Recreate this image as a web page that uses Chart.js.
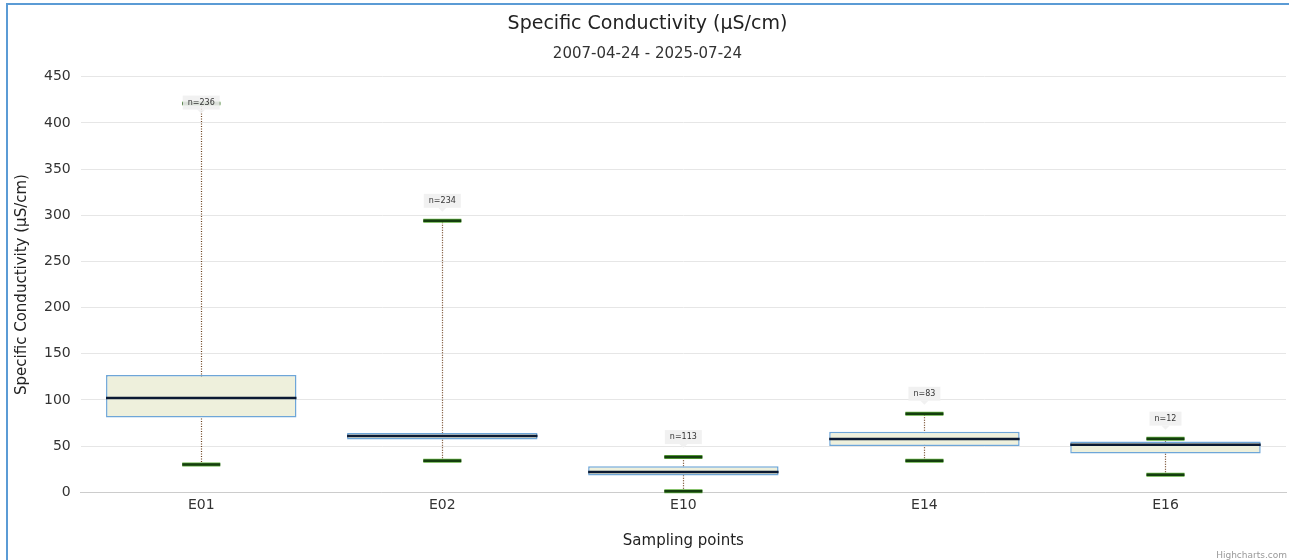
<!DOCTYPE html>
<html lang="en">

<head>
    <meta charset="UTF-8">
    <title>Specific Conductivity</title>
    <script src="https://cdn.jsdelivr.net/npm/chart.js"></script>
    <style>
        body { margin: 0; background: #fff; }
        .frame {
            position: absolute; left: 6px; top: 3px;
            width: 1283px; height: 557px;
            border-top: 2px solid #5b9bd5; border-left: 2px solid #5b9bd5;
        }
        .frame canvas { position: absolute; left: 0; top: 0; }
    </style>
</head>

<body>
    <div class="frame">
        <canvas id="myChart" width="1283" height="557"></canvas>
    </div>

    <script>
        // sampling points and box plot values (uS/cm)
        const puntos = ['E01', 'E02', 'E10', 'E14', 'E16']
        const minimo = [30, 34, 1, 34, 19]
        const q1 = [81, 57, 18, 50, 42]
        const mediana = [102, 61, 22, 57.5, 51.5]
        const q3 = [127, 64, 28, 65.5, 55]
        const maximo = [421, 294, 38, 85, 58]
        const cuentas = [236, 234, 113, 83, 12]

        const boxFont = 'DejaVu Sans'

        const cajas = {
            id: 'cajas',
            beforeDatasetsDraw(chart) {
                const ctx = chart.ctx, x = chart.scales.x, y = chart.scales.y
                ctx.save()
                ctx.strokeStyle = '#6b3f1c'
                ctx.lineWidth = 1.2
                ctx.setLineDash([1, 1.5])
                puntos.forEach((p, i) => {
                    const px = Math.round(x.getPixelForValue(i)) + 0.5
                    ctx.beginPath()
                    ctx.moveTo(px, y.getPixelForValue(minimo[i]))
                    ctx.lineTo(px, y.getPixelForValue(maximo[i]))
                    ctx.stroke()
                })
                ctx.restore()
            },
            afterDatasetsDraw(chart) {
                const ctx = chart.ctx, x = chart.scales.x, y = chart.scales.y
                const meta = chart.getDatasetMeta(0)
                ctx.save()
                puntos.forEach((p, i) => {
                    const px = x.getPixelForValue(i)
                    const w = meta.data[i].width
                    // median
                    ctx.strokeStyle = '#0b1a33'
                    ctx.lineWidth = 2.5
                    const ym = y.getPixelForValue(mediana[i])
                    ctx.beginPath()
                    ctx.moveTo(px - w / 2, ym)
                    ctx.lineTo(px + w / 2, ym)
                    ctx.stroke()
                    // whisker caps
                    ;[minimo[i], maximo[i]].forEach(v => {
                        const yv = y.getPixelForValue(v)
                        ctx.strokeStyle = '#5fae3c'
                        ctx.lineWidth = 4
                        ctx.beginPath()
                        ctx.moveTo(px - 19, yv)
                        ctx.lineTo(px + 19, yv)
                        ctx.stroke()
                        ctx.strokeStyle = '#143d0e'
                        ctx.lineWidth = 2.5
                        ctx.beginPath()
                        ctx.moveTo(px - 19, yv)
                        ctx.lineTo(px + 19, yv)
                        ctx.stroke()
                    })
                })
                // n= labels
                ctx.font = '8px ' + boxFont
                ctx.textAlign = 'center'
                ctx.textBaseline = 'middle'
                puntos.forEach((p, i) => {
                    const px = x.getPixelForValue(i)
                    let cy = y.getPixelForValue(maximo[i]) - 20
                    if (i === 0) cy += 19
                    const txt = 'n=' + cuentas[i]
                    const tw = ctx.measureText(txt).width + 10
                    ctx.fillStyle = 'rgba(240,240,240,0.9)'
                    ctx.fillRect(px - tw / 2, cy - 7, tw, 14)
                    ctx.beginPath()
                    ctx.moveTo(px - 4, cy + 7)
                    ctx.lineTo(px + 4, cy + 7)
                    ctx.lineTo(px, cy + 11)
                    ctx.fill()
                    ctx.fillStyle = '#333'
                    ctx.fillText(txt, px, cy)
                })
                ctx.restore()
            },
            afterDraw(chart) {
                const ctx = chart.ctx
                ctx.save()
                ctx.font = '9px ' + boxFont
                ctx.fillStyle = '#999'
                ctx.textAlign = 'right'
                ctx.textBaseline = 'bottom'
                ctx.fillText('Highcharts.com', chart.width - 4, chart.height - 2)
                ctx.restore()
            }
        }

        var ctx = document.getElementById('myChart')
        var myChart = new Chart(ctx, {
            type: 'bar',
            data: {
                labels: puntos,
                datasets: [{
                    label: 'Specific Conductivity',
                    data: puntos.map((p, i) => [q1[i], q3[i]]),
                    backgroundColor: '#eef0dc',
                    borderColor: '#6ea6d8',
                    borderWidth: 1.5,
                    borderSkipped: false,
                    barPercentage: 0.79,
                    categoryPercentage: 1
                }]
            },
            plugins: [cajas],
            options: {
                responsive: false,
                animation: false,
                layout: { padding: { left: 1, right: 5, bottom: 12 } },
                plugins: {
                    legend: { display: false },
                    tooltip: { enabled: false },
                    title: {
                        display: true,
                        text: 'Specific Conductivity (μS/cm)',
                        color: '#222',
                        font: { family: boxFont, size: 19, weight: 'normal' },
                        padding: { top: 8, bottom: 9 }
                    },
                    subtitle: {
                        display: true,
                        text: '2007-04-24 - 2025-07-24',
                        color: '#333',
                        font: { family: boxFont, size: 15 },
                        padding: { bottom: 14 }
                    }
                },
                scales: {
                    x: {
                        grid: { display: false, drawTicks: false },
                        border: { display: true, color: '#ccc' },
                        ticks: { color: '#333', font: { family: boxFont, size: 14 }, padding: 5 },
                        title: {
                            display: true, text: 'Sampling points', color: '#222',
                            font: { family: boxFont, size: 15 }, padding: { top: 13, bottom: 0 }
                        }
                    },
                    y: {
                        min: 0, max: 450,
                        ticks: { stepSize: 50, color: '#333', font: { family: boxFont, size: 14 }, padding: 10 },
                        grid: { color: '#e6e6e6', drawTicks: false },
                        border: { display: false },
                        title: {
                            display: true, text: 'Specific Conductivity (μS/cm)', color: '#222',
                            font: { family: boxFont, size: 15 }, padding: { top: 4, bottom: 3 }
                        }
                    }
                }
            }
        })
    </script>
</body>

</html>
